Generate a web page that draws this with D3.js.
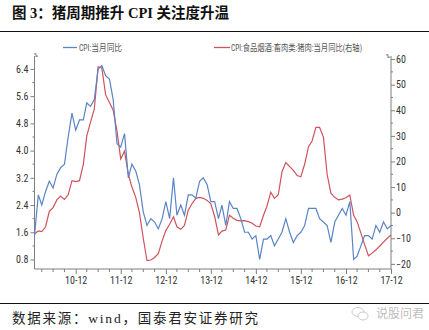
<!DOCTYPE html>
<html><head><meta charset="utf-8">
<script src="https://cdn.jsdelivr.net/npm/d3@7"></script>
<style>
html,body{margin:0;padding:0;background:#fff;}
svg{display:block;}
</style></head>
<body>
<svg id="c" width="429" height="330"></svg>
<script>
// ---- data ----
const startYear = 2010, startMonth = 0; // Jan 2010, monthly
const cpiYoY = [
 1.5,2.7,2.4,2.8,3.1,2.9,3.3,3.5,3.6,4.4,5.1,4.6,
 4.9,4.9,5.4,5.3,5.5,6.4,6.5,6.2,6.1,5.5,4.2,4.1,
 4.5,3.2,3.6,3.4,3.0,2.2,1.8,2.0,1.9,1.7,2.0,2.5,
 2.0,3.2,2.1,2.4,2.1,2.7,2.7,2.6,3.1,3.2,3.0,2.5,
 2.5,2.0,2.4,1.8,2.5,2.3,2.3,2.0,1.6,1.6,1.4,1.5,
 0.8,1.4,1.4,1.5,1.2,1.4,1.6,2.0,1.6,1.3,1.5,1.6,
 1.8,2.3,2.3,2.3,2.0,1.9,1.8,1.3,1.9,2.1,2.3,2.1,
 2.5,0.8,0.9,1.2,1.5,1.5,1.4,1.8,1.6,1.9,1.7,1.8
];
const porkYoY = [
 -8.3,-7.1,-7.4,-5.5,0.5,2.0,5.0,6.5,5.2,7.0,12.5,12.1,
 12.5,19.0,30.0,35.5,40.5,57.0,56.5,46.0,43.0,40.0,32.0,21.0,
 24.0,15.0,10.0,6.0,0.0,-10.0,-18.7,-18.5,-17.5,-16.0,-11.0,-7.0,
 -4.5,-1.6,-5.5,-6.5,-5.0,1.0,3.5,5.6,6.0,5.6,4.8,3.5,
 -1.5,-8.7,-7.2,-6.8,-1.0,-2.2,-3.0,-3.2,-3.1,-3.5,-4.1,-5.2,
 -5.5,-1.0,2.5,8.0,5.6,7.0,16.0,19.6,18.0,16.5,14.5,14.0,
 19.0,25.8,28.0,33.3,33.3,29.5,15.0,7.5,6.0,5.0,5.3,5.8,
 6.9,-1.0,-3.5,-8.0,-12.5,-16.8,-15.8,-14.5,-13.0,-11.5,-10.0,-8.7
];
const leftTicks = [0.8,1.6,2.4,3.2,4.0,4.8,5.6,6.4];
const rightTicks = [-20,-10,0,10,20,30,40,50,60];
const xLabelYears = [2010,2011,2012,2013,2014,2015,2016,2017];
const titleText = "图 3：猪周期推升 CPI 关注度升温";
const legendNames = ["CPI:当月同比","CPI:食品烟酒:畜肉类:猪肉:当月同比(右轴)"];
const sourceText = "数据来源：wind，国泰君安证券研究";
const watermark = "说股问君";

// ---- layout ----
const svg = d3.select("#c");
const L = 34.5, R = 391, T = 56, B = 269;
const blue = "#5a84c4", red = "#d0525c", axisCol = "#7f7f7f", txtCol = "#333";
const dates = cpiYoY.map((_, i) => new Date(startYear, startMonth + i, 1));
const x = d3.scaleTime().domain([new Date(2010,0,1), new Date(2017,11,1)]).range([L, R]);
const yL = d3.scaleLinear().domain([0.52, 6.78]).range([B, T]);
const yR = d3.scaleLinear().domain([-22, 61.2]).range([B, T]);

// title
svg.append("text").attr("x", 12).attr("y", 18)
  .attr("font-family", "'Liberation Serif','Noto Sans CJK SC',serif")
  .attr("font-weight", "bold").attr("font-size", 14.5).attr("fill", "#111")
  .text(titleText);
svg.append("line").attr("x1", 0).attr("x2", 429).attr("y1", 31.5).attr("y2", 31.5)
  .attr("stroke", "#111").attr("stroke-width", 1.2);

// footer
svg.append("line").attr("x1", 0).attr("x2", 429).attr("y1", 303.5).attr("y2", 303.5)
  .attr("stroke", "#111").attr("stroke-width", 1.2);
svg.append("text").attr("x", 12).attr("y", 323)
  .attr("font-family", "'Liberation Serif','Noto Sans CJK SC',serif")
  .attr("font-size", 13.5).attr("fill", "#222")
  .attr("textLength", 246).attr("lengthAdjust", "spacing")
  .text(sourceText);
// watermark
const wm = svg.append("g").attr("transform", "translate(352,313)").attr("opacity", 0.55);
wm.append("ellipse").attr("cx", 6).attr("cy", -1).attr("rx", 6).attr("ry", 4.5)
  .attr("fill", "none").attr("stroke", "#999").attr("stroke-width", 0.9);
wm.append("ellipse").attr("cx", 11).attr("cy", 3).attr("rx", 5).attr("ry", 4)
  .attr("fill", "#fff").attr("stroke", "#999").attr("stroke-width", 0.9);
wm.append("text").attr("x", 24).attr("y", 5)
  .attr("font-family", "'Noto Sans CJK SC',sans-serif").attr("font-size", 12)
  .attr("fill", "#888").text(watermark);

// legend
const lg = svg.append("g").attr("font-family", "'Liberation Sans Narrow','Roboto Condensed','Noto Sans CJK SC',sans-serif")
  .attr("font-size", 9.5).attr("fill", "#555");
lg.append("line").attr("x1", 63).attr("x2", 77).attr("y1", 47.5).attr("y2", 47.5).attr("stroke", blue).attr("stroke-width", 1.3);
lg.append("text").attr("x", 79).attr("y", 51).attr("textLength", 43).attr("lengthAdjust", "spacingAndGlyphs").text(legendNames[0]);
lg.append("line").attr("x1", 214).attr("x2", 230).attr("y1", 47.5).attr("y2", 47.5).attr("stroke", red).attr("stroke-width", 1.3);
lg.append("text").attr("x", 231).attr("y", 51).attr("textLength", 131).attr("lengthAdjust", "spacingAndGlyphs").text(legendNames[1]);

const axFont = "'Liberation Sans Narrow','Roboto Condensed','Noto Sans',sans-serif";

// left axis
const gL = svg.append("g").attr("transform", `translate(${L},0)`);
gL.call(d3.axisLeft(yL).tickValues(leftTicks).tickFormat(d3.format(".1f")).tickSize(4).tickPadding(2));
gL.append("g").selectAll("line").data(d3.range(0.8, 6.8, 0.4).filter(v => Math.abs((v/0.8) - Math.round(v/0.8)) > 0.01))
  .join("line").attr("x1", 0).attr("x2", -2).attr("y1", d => yL(d)).attr("y2", d => yL(d)).attr("stroke", axisCol);
// right axis
const gR = svg.append("g").attr("transform", `translate(${R},0)`);
gR.call(d3.axisRight(yR).tickValues(rightTicks).tickFormat(d3.format("d")).tickSize(4).tickPadding(1));
gR.append("g").selectAll("line").data(d3.range(-15, 61, 10))
  .join("line").attr("x1", 0).attr("x2", 2).attr("y1", d => yR(d)).attr("y2", d => yR(d)).attr("stroke", axisCol);
// bottom axis
const gB = svg.append("g").attr("transform", `translate(0,${B})`);
const qTicks = d3.timeMonth.range(new Date(2010,2,1), new Date(2018,0,1), 3);
gB.call(d3.axisBottom(x).tickValues(xLabelYears.map(y => new Date(y,11,1)))
  .tickFormat(d3.timeFormat("%y-%m")).tickSize(5).tickPadding(3));
gB.append("g").selectAll("line").data(qTicks.filter(d => d.getMonth() !== 11))
  .join("line").attr("x1", d => x(d)).attr("x2", d => x(d)).attr("y1", 0).attr("y2", 3).attr("stroke", axisCol);

[gL, gR, gB].forEach(g => {
  g.select(".domain").attr("stroke", axisCol);
  g.selectAll(".tick line").attr("stroke", axisCol);
  g.selectAll(".tick text").attr("font-family", axFont).attr("font-size", 10).attr("fill", txtCol);
});
gB.select(".domain").attr("d", `M${L},0H${R}`);
gL.select(".domain").attr("d", `M0,${T}V${B}`);
gR.select(".domain").attr("d", `M0,${T}V${B}`);

// % labels
svg.append("text").attr("x", 34).attr("y", 57).attr("font-family", axFont).attr("font-size", 6).attr("fill", txtCol).text("%");
svg.append("text").attr("x", 386).attr("y", 58).attr("font-family", axFont).attr("font-size", 6).attr("fill", txtCol).text("%");

// lines
const lineL = d3.line().x((d, i) => x(dates[i])).y(d => yL(d));
const lineR = d3.line().x((d, i) => x(dates[i])).y(d => yR(d));
svg.append("path").datum(porkYoY).attr("d", lineR).attr("fill", "none").attr("stroke", red).attr("stroke-width", 1.2);
svg.append("path").datum(cpiYoY).attr("d", lineL).attr("fill", "none").attr("stroke", blue).attr("stroke-width", 1.2);
</script>
</body></html>
